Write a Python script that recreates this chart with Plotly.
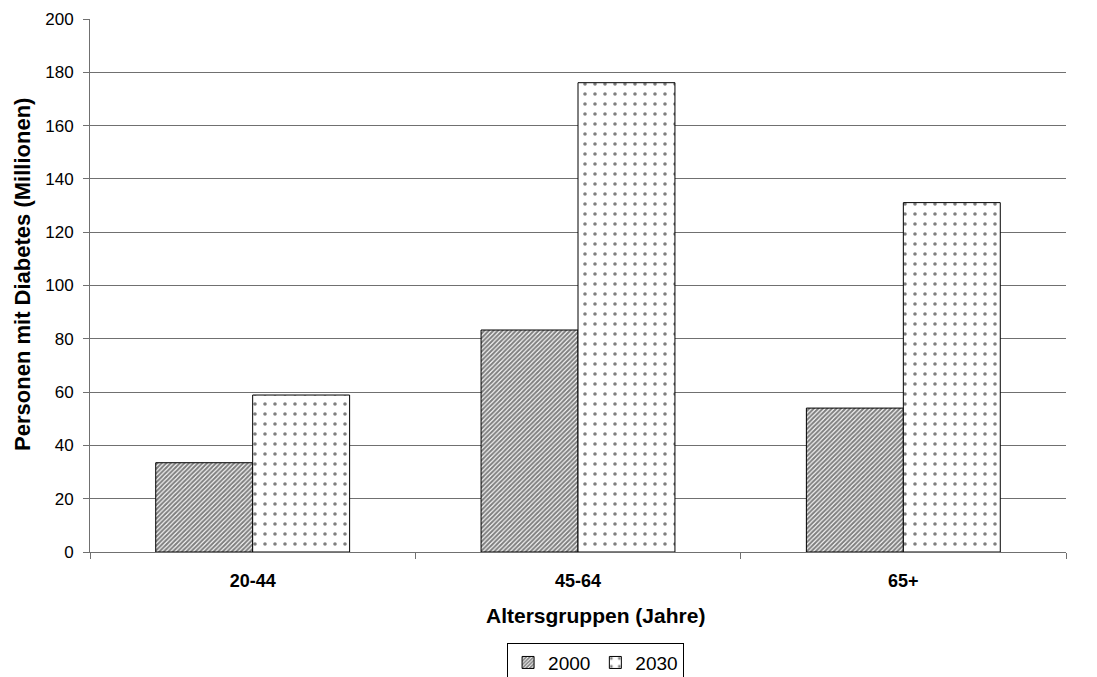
import plotly.graph_objects as go

# Persons with diabetes by age group (millions)
age_groups = ["20-44", "45-64", "65+"]
values_2000 = [33.5, 83.3, 54.0]
values_2030 = [58.9, 176.1, 131.1]
y_ticks = [0, 20, 40, 60, 80, 100, 120, 140, 160, 180, 200]

x_title = "Altersgruppen (Jahre)"
y_title = "Personen mit Diabetes (Millionen)"

FONT = "Arial, 'Liberation Sans', sans-serif"
AXIS_GREY = "#707070"

fig = go.Figure()
fig.add_trace(go.Bar(
    name="2000", x=age_groups, y=values_2000,
    marker=dict(color="white", line=dict(color="black", width=1),
                pattern=dict(shape="/", fgcolor="black", bgcolor="white",
                             size=3.2, solidity=0.65)),
))
fig.add_trace(go.Bar(
    name="2030", x=age_groups, y=values_2030,
    marker=dict(color="white", line=dict(color="black", width=1),
                pattern=dict(shape=".", fgcolor="black", bgcolor="white",
                             size=10, solidity=0.1)),
))

# axis titles as annotations so they can sit slightly off-centre
fig.add_annotation(text=f"<b>{x_title}</b>", xref="paper", yref="paper",
                   x=0.518, y=-0.12, xanchor="center", yanchor="middle",
                   showarrow=False, font=dict(size=21))
fig.add_annotation(text=f"<b>{y_title}</b>", xref="paper", yref="paper",
                   x=-0.0686, y=0.52, xanchor="center", yanchor="middle",
                   textangle=-90, showarrow=False, font=dict(size=22))

fig.update_layout(
    width=1097, height=677,
    margin=dict(l=90, r=31, t=19, b=125, autoexpand=False),
    paper_bgcolor="white", plot_bgcolor="white",
    font=dict(family=FONT, size=17, color="black"),
    barmode="group", bargap=0.404, bargroupgap=0,
    showlegend=True,
    legend=dict(orientation="h", x=0.518, xanchor="center", y=-0.17, yanchor="top",
                bordercolor="black", borderwidth=1, font=dict(size=19),
                itemwidth=30, tracegroupgap=0),
    xaxis=dict(
        showline=True, linecolor=AXIS_GREY, linewidth=1,
        ticks="outside", ticklen=6, tickcolor=AXIS_GREY, tickson="boundaries",
        ticklabelstandoff=12,
        tickfont=dict(size=18, family=FONT, weight="bold"),
        showgrid=False,
    ),
    yaxis=dict(
        range=[0, 200], tickvals=y_ticks,
        showline=True, linecolor=AXIS_GREY, linewidth=1,
        ticks="outside", ticklen=6, tickcolor=AXIS_GREY,
        ticklabelstandoff=6,
        showgrid=True, gridcolor=AXIS_GREY, gridwidth=1,
        tickfont=dict(size=17),
        zeroline=False,
    ),
)

fig.write_html("out.html")
